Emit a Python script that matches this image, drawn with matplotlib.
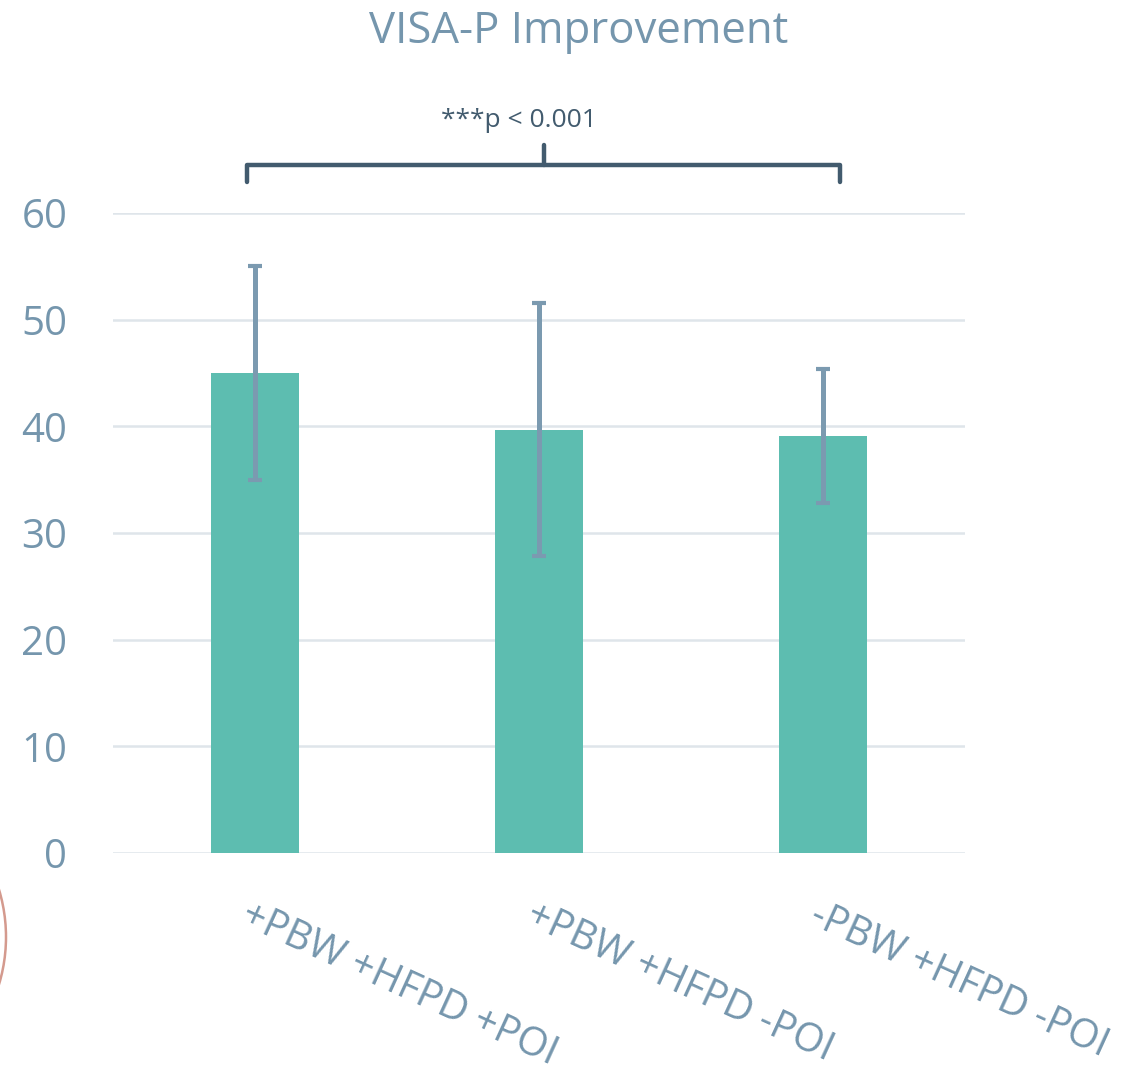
import matplotlib.pyplot as plt
from matplotlib.patches import Circle

# VISA-P improvement per group, with SD error bars
groups = ['+PBW +HFPD +POI', '+PBW +HFPD -POI', '-PBW +HFPD -POI']
means = [45.0, 39.7, 39.1]
errors = [10.0, 11.9, 6.3]
yticks = [0, 10, 20, 30, 40, 50, 60]

bar_color = '#5dbdb0'
err_color = '#7b9ab0'
text_color = '#7596ad'
dark = '#425b6e'

plt.rcParams['font.family'] = ['Open Sans', 'DejaVu Sans']

fig = plt.figure(figsize=(11.4, 10.78), dpi=100)
ax = fig.add_axes([0.0991, 0.2087, 0.7474, 0.5937])

x = range(len(groups))
ax.bar(x, means, width=0.313, color=bar_color, zorder=2)
ax.errorbar(x, means, yerr=errors, fmt='none', ecolor=err_color,
            elinewidth=3.6, capsize=4.8, capthick=3, zorder=3)

ax.set_xlim(-0.5, 2.5)
ax.set_ylim(0, 60)
ax.set_yticks(yticks)
ax.yaxis.grid(True, color='#dfe5ea', linewidth=1.8, zorder=0)
ax.set_axisbelow(True)
for s in ax.spines.values():
    s.set_visible(False)
ax.tick_params(axis='y', length=0, labelsize=29, labelcolor=text_color, pad=33)
ax.tick_params(axis='x', length=0)
ax.set_xticks(list(x))
ax.set_xticklabels([])
for i, g in enumerate(groups):
    ax.text(i - 0.01, -4.0, g, rotation=-24.5, rotation_mode='anchor',
            ha='left', va='top', fontsize=28.5, color=text_color, clip_on=False)

# significance bracket across all groups
xl, xr, xm = -0.028, 2.06, 1.016
yb, yt, ytip = 62.9, 64.5, 66.4
ax.plot([xl, xl, xr, xr], [yb, yt, yt, yb], color=dark, lw=3.2,
        solid_joinstyle='round', solid_capstyle='round', clip_on=False)
ax.plot([xm, xm], [yt, ytip], color=dark, lw=3.2, solid_capstyle='round',
        clip_on=False)
ax.text(0.93, 68.7, '***p < 0.001', ha='center', va='center', fontsize=19,
        color=dark, clip_on=False)

fig.text(0.508, 0.971, 'VISA-P Improvement', ha='center', va='center',
         fontsize=31.5, color=text_color)

# partial circle at the lower left edge
fig.add_artist(Circle((-1.58, 1.41), 1.64, transform=fig.dpi_scale_trans,
                      fill=False, edgecolor='#d49a8e', lw=1.8, clip_on=False))

fig.savefig('out.png', dpi=100)
